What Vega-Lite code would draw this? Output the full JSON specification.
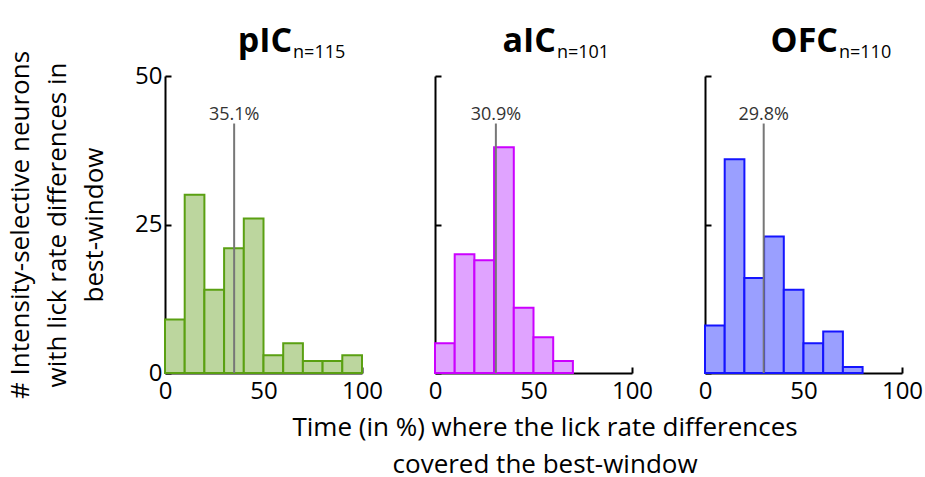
{
  "$schema": "https://vega.github.io/schema/vega-lite/v6.json",
  "padding": {"left": 7, "top": 25, "right": 3, "bottom": 5},
  "background": "white",
  "title": {
    "text": ["Time (in %) where the lick rate differences", "covered the best-window"],
    "orient": "bottom", "anchor": "middle", "font": "Open Sans", "fontSize": 26,
    "fontWeight": "normal", "color": "black", "lineHeight": 37, "offset": 12, "dx": 80
  },
  "datasets": {
    "pic": [
      {"bin_start": 0, "bin_end": 10, "count": 9},
      {"bin_start": 10, "bin_end": 20, "count": 30},
      {"bin_start": 20, "bin_end": 30, "count": 14},
      {"bin_start": 30, "bin_end": 40, "count": 21},
      {"bin_start": 40, "bin_end": 50, "count": 26},
      {"bin_start": 50, "bin_end": 60, "count": 3},
      {"bin_start": 60, "bin_end": 70, "count": 5},
      {"bin_start": 70, "bin_end": 80, "count": 2},
      {"bin_start": 80, "bin_end": 90, "count": 2},
      {"bin_start": 90, "bin_end": 100, "count": 3}
    ],
    "aic": [
      {"bin_start": 0, "bin_end": 10, "count": 5},
      {"bin_start": 10, "bin_end": 20, "count": 20},
      {"bin_start": 20, "bin_end": 30, "count": 19},
      {"bin_start": 30, "bin_end": 40, "count": 38},
      {"bin_start": 40, "bin_end": 50, "count": 11},
      {"bin_start": 50, "bin_end": 60, "count": 6},
      {"bin_start": 60, "bin_end": 70, "count": 2}
    ],
    "ofc": [
      {"bin_start": 0, "bin_end": 10, "count": 8},
      {"bin_start": 10, "bin_end": 20, "count": 36},
      {"bin_start": 20, "bin_end": 30, "count": 16},
      {"bin_start": 30, "bin_end": 40, "count": 23},
      {"bin_start": 40, "bin_end": 50, "count": 14},
      {"bin_start": 50, "bin_end": 60, "count": 5},
      {"bin_start": 60, "bin_end": 70, "count": 7},
      {"bin_start": 70, "bin_end": 80, "count": 1}
    ],
    "labels": [
      {"region": "pIC", "n": "n=115", "median": 35.1, "median_label": "35.1%"},
      {"region": "aIC", "n": "n=101", "median": 30.9, "median_label": "30.9%"},
      {"region": "OFC", "n": "n=110", "median": 29.8, "median_label": "29.8%"}
    ]
  },
  "config": {
    "font": "Open Sans",
    "view": {"stroke": null},
    "axis": {
      "grid": false,
      "domainColor": "black",
      "domainWidth": 2,
      "tickColor": "black",
      "tickWidth": 2,
      "tickSize": -6,
      "labelFont": "Open Sans",
      "labelFontSize": 24,
      "labelColor": "black",
      "titleFont": "Open Sans",
      "titleFontSize": 26,
      "titleFontWeight": "normal",
      "titleColor": "black"
    }
  },
  "hconcat": [
    {
      "width": 197,
      "height": 297,
      "layer": [
        {
          "data": {"name": "pic"},
          "mark": {"type": "bar", "fill": "#bcd69e", "stroke": "#5aa012", "strokeWidth": 2},
          "encoding": {
            "x": {"field": "bin_start", "type": "quantitative", "scale": {"domain": [0, 100], "nice": false},
              "axis": {"values": [0, 50, 100], "title": null, "labelPadding": 12, "labelFlush": false}},
            "x2": {"field": "bin_end"},
            "y": {"field": "count", "type": "quantitative", "scale": {"domain": [0, 50], "nice": false},
              "axis": {"values": [0, 25, 50], "labelPadding": 9,
                "title": ["# Intensity-selective neurons", "with lick rate differences in", "best-window"],
                "titleLineHeight": 37, "titlePadding": 27}},
            "y2": {"datum": 0}
          }
        },
        {
          "data": {"name": "labels"},
          "transform": [{"filter": "datum.region === 'pIC'"}],
          "layer": [
            {"mark": {"type": "rule", "color": "#777777", "strokeWidth": 2},
              "encoding": {"x": {"field": "median", "type": "quantitative"}, "y": {"datum": 0}, "y2": {"datum": 42}}},
            {"mark": {"type": "text", "fontSize": 18, "color": "#333333", "baseline": "alphabetic", "dy": -4},
              "encoding": {"x": {"field": "median", "type": "quantitative"}, "y": {"datum": 42}, "text": {"field": "median_label"}}},
            {"mark": {"type": "text", "fontSize": 34, "fontWeight": "bold", "align": "right", "baseline": "alphabetic"},
              "encoding": {"x": {"datum": 64.5}, "y": {"datum": 54}, "text": {"field": "region"}}},
            {"mark": {"type": "text", "fontSize": 18, "align": "left", "baseline": "alphabetic", "dx": 1},
              "encoding": {"x": {"datum": 64.5}, "y": {"datum": 53}, "text": {"field": "n"}}}
          ]
        }
      ]
    },
    {
      "width": 197,
      "height": 297,
      "layer": [
        {
          "data": {"name": "aic"},
          "mark": {"type": "bar", "fill": "#e0a3ff", "stroke": "#cc00ff", "strokeWidth": 2},
          "encoding": {
            "x": {"field": "bin_start", "type": "quantitative", "scale": {"domain": [0, 100], "nice": false},
              "axis": {"values": [0, 50, 100], "labelPadding": 12, "labelFlush": false, "title": null}},
            "x2": {"field": "bin_end"},
            "y": {"field": "count", "type": "quantitative", "scale": {"domain": [0, 50], "nice": false},
              "axis": {"values": [0, 25, 50], "labels": false, "title": null}},
            "y2": {"datum": 0}
          }
        },
        {
          "data": {"name": "labels"},
          "transform": [{"filter": "datum.region === 'aIC'"}],
          "layer": [
            {"mark": {"type": "rule", "color": "#777777", "strokeWidth": 2},
              "encoding": {"x": {"field": "median", "type": "quantitative"}, "y": {"datum": 0}, "y2": {"datum": 42}}},
            {"mark": {"type": "text", "fontSize": 18, "color": "#333333", "baseline": "alphabetic", "dy": -4},
              "encoding": {"x": {"field": "median", "type": "quantitative"}, "y": {"datum": 42}, "text": {"field": "median_label"}}},
            {"mark": {"type": "text", "fontSize": 34, "fontWeight": "bold", "align": "right", "baseline": "alphabetic"},
              "encoding": {"x": {"datum": 61.4}, "y": {"datum": 54}, "text": {"field": "region"}}},
            {"mark": {"type": "text", "fontSize": 18, "align": "left", "baseline": "alphabetic", "dx": 1},
              "encoding": {"x": {"datum": 61.4}, "y": {"datum": 53}, "text": {"field": "n"}}}
          ]
        }
      ]
    },
    {
      "width": 197,
      "height": 297,
      "layer": [
        {
          "data": {"name": "ofc"},
          "mark": {"type": "bar", "fill": "#9a9fff", "stroke": "#1414ff", "strokeWidth": 2},
          "encoding": {
            "x": {"field": "bin_start", "type": "quantitative", "scale": {"domain": [0, 100], "nice": false},
              "axis": {"values": [0, 50, 100], "title": null, "labelPadding": 12, "labelFlush": false}},
            "x2": {"field": "bin_end"},
            "y": {"field": "count", "type": "quantitative", "scale": {"domain": [0, 50], "nice": false},
              "axis": {"values": [0, 25, 50], "labels": false, "title": null}},
            "y2": {"datum": 0}
          }
        },
        {
          "data": {"name": "labels"},
          "transform": [{"filter": "datum.region === 'OFC'"}],
          "layer": [
            {"mark": {"type": "rule", "color": "#777777", "strokeWidth": 2},
              "encoding": {"x": {"field": "median", "type": "quantitative"}, "y": {"datum": 0}, "y2": {"datum": 42}}},
            {"mark": {"type": "text", "fontSize": 18, "color": "#333333", "baseline": "alphabetic", "dy": -4},
              "encoding": {"x": {"field": "median", "type": "quantitative"}, "y": {"datum": 42}, "text": {"field": "median_label"}}},
            {"mark": {"type": "text", "fontSize": 34, "fontWeight": "bold", "align": "right", "baseline": "alphabetic"},
              "encoding": {"x": {"datum": 67.5}, "y": {"datum": 54}, "text": {"field": "region"}}},
            {"mark": {"type": "text", "fontSize": 18, "align": "left", "baseline": "alphabetic", "dx": 1},
              "encoding": {"x": {"datum": 67.5}, "y": {"datum": 53}, "text": {"field": "n"}}}
          ]
        }
      ]
    }
  ],
  "spacing": 45
}
